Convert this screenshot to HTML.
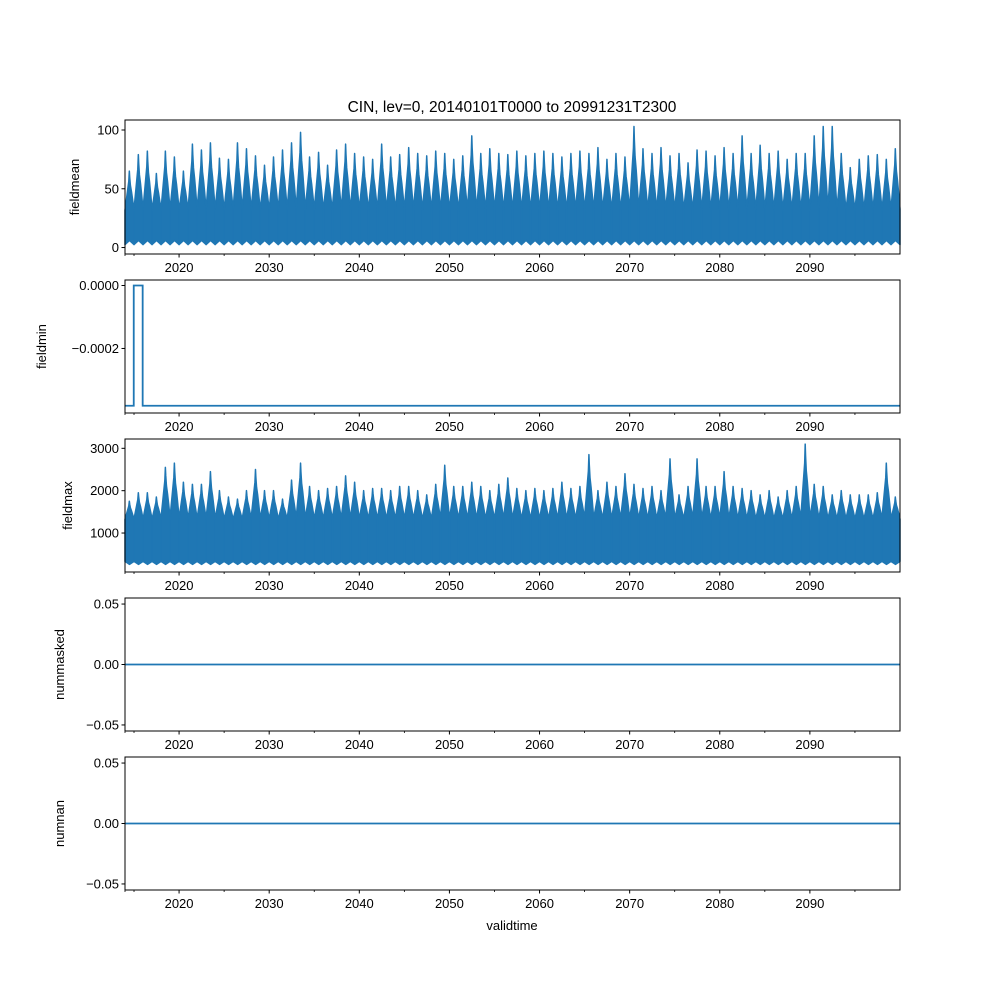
<!DOCTYPE html>
<html><head><meta charset="utf-8"><style>
body{margin:0;background:#fff}
svg{display:block;font-family:"Liberation Sans","DejaVu Sans",sans-serif}
</style></head><body>
<svg id="fig" width="1000" height="1000" viewBox="0 0 1000 1000">
<rect width="1000" height="1000" fill="#fff"/>
<text x="512" y="112" font-size="15.5" text-anchor="middle">CIN, lev=0, 20140101T0000 to 20991231T2300</text>
<text x="512" y="930" font-size="13" text-anchor="middle">validtime</text>
</svg>
<script>
// Data
const years = [];
for (let y = 2014; y <= 2099; y++) years.push(y);
const meanYearMax = [65,79,82,63,82,77,65,88,83,89,76,75,89,84,78,70,77,83,89,98,77,81,70,83,88,80,77,75,88,77,79,85,80,78,82,80,75,78,95,80,84,80,79,82,78,80,82,80,77,80,82,80,85,75,80,77,103,84,80,85,78,80,72,83,82,78,85,80,95,80,87,80,82,75,80,80,95,103,103,80,68,75,78,79,75,84];
const maxYearMax = [1750,1950,1950,1850,2550,2650,2200,2150,2150,2450,2000,1850,1800,2000,2500,2000,2000,1800,2250,2650,2100,2000,2050,2100,2350,2200,2000,2050,2050,2000,2100,2100,2000,1900,2150,2600,2100,2100,2200,2100,2000,2150,2300,2050,2000,2050,2000,2050,2200,2050,2100,2850,2000,2200,2100,2400,2150,2050,2100,2000,2750,1900,2100,2750,2100,2100,2450,2100,2050,2000,1900,2000,1850,2000,2100,3100,2150,2100,1900,2000,1900,1900,1900,1950,2650,1850];
const minStepTimes = [2014.0, 2014.97, 2015.96, 2100.0];
const minStepValues = [-0.000382, 0, -0.000382, -0.000382];
const maskedValue = 0;
const nanValue = 0;
const xTicks = [2020,2030,2040,2050,2060,2070,2080,2090];
const xMinorTicks = [2014,2015,2025,2035,2045,2055,2065,2075,2085,2095];
const meanTicks = [0,50,100];
const minTicks = [0,-0.0002];
const minTickLabels = ["0.0000","\u22120.0002"];
const maxTicks = [1000,2000,3000];
const zeroTicks = [-0.05,0,0.05];
const zeroTickLabels = ["\u22120.05","0.00","0.05"];

const NS = "http://www.w3.org/2000/svg";
const svg = document.getElementById('fig');
const L = 125, R = 900, C = '#1f77b4';
const xs = t => L + (t - 2014) / (2100 - 2014) * (R - L);
function el(tag, attrs, parent) {
  const e = document.createElementNS(NS, tag);
  for (const k in attrs) e.setAttribute(k, attrs[k]);
  (parent || svg).appendChild(e);
  return e;
}
function panel(name, top, bottom, y0, y1, ticks, labels, ylabel, ylabelX) {
  const g = el('g', {});
  
  
  const ys = v => bottom - (v - y0) / (y1 - y0) * (bottom - top);
  const plot = el('g', {}, g);
  
  
  const frame = el('rect', {x: L, y: top, width: R - L, height: bottom - top, fill: 'none', stroke: '#000', 'stroke-width': 1}, g);
  
  
  ticks.forEach((v, i) => {
    const y = ys(v);
    el('line', {x1: L - 3.5, x2: L, y1: y, y2: y, stroke: '#000'}, g);
    const t = el('text', {x: L - 6, y: y + 4.5, 'font-size': 13, 'text-anchor': 'end'}, g);
    t.textContent = labels ? labels[i] : String(v);
    
    
  });
  xTicks.forEach(v => {
    const x = xs(v);
    el('line', {x1: x, x2: x, y1: bottom, y2: bottom + 3.5, stroke: '#000'}, g);
    const t = el('text', {x: x, y: bottom + 18, 'font-size': 13, 'text-anchor': 'middle'}, g);
    t.textContent = v;
    
    
  });
  xMinorTicks.forEach(v => {
    const x = xs(v);
    el('line', {x1: x, x2: x, y1: bottom, y2: bottom + 2, stroke: '#000', 'stroke-width': 0.8}, g);
  });
  const yl = el('text', {x: ylabelX, y: (top + bottom) / 2, 'font-size': 13, 'text-anchor': 'middle', transform: `rotate(-90 ${ylabelX} ${(top + bottom) / 2})`}, g);
  yl.textContent = ylabel;
  
  
  return {plot, ys};
}
// seasonal envelope shape (fractions of year) for dense hourly data
const shapeT = [0, 0.15, 0.3, 0.42, 0.48, 0.52, 0.6, 0.72, 0.85, 1];
const shapeF = [0.05, 0.3, 0.55, 0.75, 1.0, 0.85, 0.65, 0.5, 0.3, 0.05];
function dense(p, maxArr, baseHigh, baseLow, dipLow, name) {
  let d = '';
  years.forEach((y, i) => {
    const pts = [];
    shapeT.forEach((f, k) => {
      const v = baseHigh + (maxArr[i] - baseHigh) * shapeF[k];
      pts.push([xs(y + f), p.ys(v)]);
    });
    const lows = [[xs(y + 1), p.ys(baseLow)], [xs(y + 0.5), p.ys(dipLow)], [xs(y), p.ys(baseLow)]];
    d += 'M' + pts.map(q => q[0].toFixed(2) + ',' + q[1].toFixed(2)).join('L') + 'L' + lows.map(q => q[0].toFixed(2) + ',' + q[1].toFixed(2)).join('L') + 'Z';
  });
  const path = el('path', {d: d, fill: C, stroke: C, 'stroke-width': 1.5, 'stroke-linejoin': 'round'}, p.plot);
  
  
}
// Panel 1: fieldmean
const p1 = panel('fieldmean', 120, 254, -5.5, 108.5, meanTicks, null, 'fieldmean', 79);
dense(p1, meanYearMax, 30, 2.5, 6, 'fieldmean-line');
// Panel 2: fieldmin
const p2 = panel('fieldmin', 280, 413, -0.000405, 0.0000175, minTicks, minTickLabels, 'fieldmin', 46);
let d2 = '';
minStepTimes.forEach((t, i) => {
  const x = xs(t), y = p2.ys(minStepValues[i]);
  if (i === 0) d2 += `M${x},${y}`;
  else d2 += `L${x},${p2.ys(minStepValues[i - 1])}L${x},${y}`;
});
const l2 = el('path', {d: d2, fill: 'none', stroke: C, 'stroke-width': 1.8}, p2.plot);


// Panel 3: fieldmax
const p3 = panel('fieldmax', 439, 572, 80, 3220, maxTicks, null, 'fieldmax', 72);
dense(p3, maxYearMax, 1300, 330, 260, 'fieldmax-line');
// Panel 4: nummasked
const p4 = panel('nummasked', 598, 731, -0.055, 0.055, zeroTicks, zeroTickLabels, 'nummasked', 64);
const l4 = el('line', {x1: L, x2: R, y1: p4.ys(maskedValue), y2: p4.ys(maskedValue), stroke: C, 'stroke-width': 1.8}, p4.plot);


// Panel 5: numnan
const p5 = panel('numnan', 757, 890, -0.055, 0.055, zeroTicks, zeroTickLabels, 'numnan', 64);
const l5 = el('line', {x1: L, x2: R, y1: p5.ys(nanValue), y2: p5.ys(nanValue), stroke: C, 'stroke-width': 1.8}, p5.plot);


</script>
</body></html>
